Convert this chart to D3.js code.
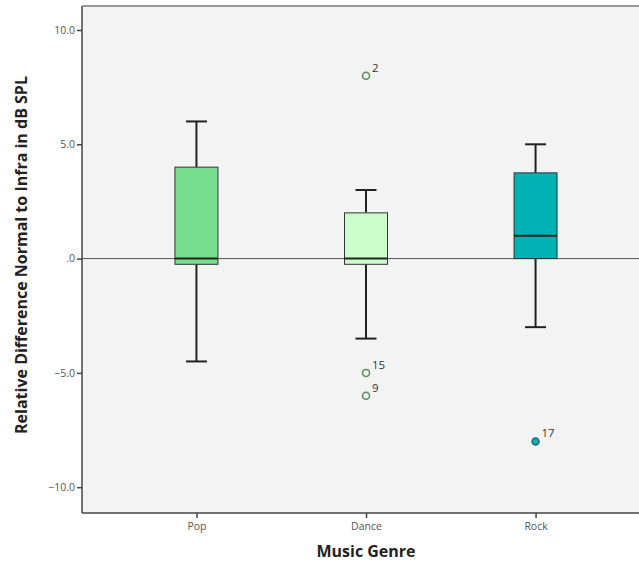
<!DOCTYPE html>
<html>
<head>
<meta charset="utf-8">
<script src="https://cdn.jsdelivr.net/npm/d3@7"></script>
<style>
  body { margin: 0; background: #fff; }
  svg text { font-family: "Open Sans", "DejaVu Sans", sans-serif; }
</style>
</head>
<body>
<div id="chart"></div>
<script>
// data
let genres = ["Pop", "Dance", "Rock"];
let q1 = [-0.25, -0.25, 0];
let medians = [0, 0, 1];
let q3 = [4, 2, 3.75];
let whiskLow = [-4.5, -3.5, -3];
let whiskHigh = [6, 3, 5];
let boxColors = ["#78df8e", "#ccfbcc", "#00b2b4"];
// outliers: genre, value, case label, filled?
let outGenre = ["Dance", "Dance", "Dance", "Rock"];
let outValue = [8, -5, -6, -8];
let outLabel = ["2", "15", "9", "17"];
let outFilled = [false, false, false, true];
let yTicks = [10, 5, 0, -5, -10];

let width = 639, height = 563;
let pLeft = 82, pTop = 6, pRight = 639, pBottom = 513;

let svg = d3.select("#chart").append("svg")
  .attr("width", width)
  .attr("height", height);

svg.append("rect")
  .attr("x", pLeft).attr("y", pTop)
  .attr("width", pRight - pLeft).attr("height", pBottom - pTop)
  .attr("fill", "#f3f3f3");

let y = d3.scaleLinear().domain([-11.13, 11.05]).range([pBottom, pTop]);
// the plot runs on past the right edge of the picture
let x = d3.scalePoint().domain(genres).range([pLeft, 650]).padding(0.675);

// zero reference line
svg.append("line")
  .attr("x1", pLeft).attr("x2", pRight)
  .attr("y1", y(0)).attr("y2", y(0))
  .attr("stroke", "#555").attr("stroke-width", 1);

let boxW = 43, capW = 21;
let rows = genres.map((g, i) => ({ g, i }));

let grp = svg.selectAll(".box").data(rows).enter().append("g").classed("box", true);

// whiskers
grp.append("line")
  .attr("x1", d => x(d.g)).attr("x2", d => x(d.g))
  .attr("y1", d => y(whiskHigh[d.i])).attr("y2", d => y(q3[d.i]))
  .attr("stroke", "#222").attr("stroke-width", 2);
grp.append("line")
  .attr("x1", d => x(d.g)).attr("x2", d => x(d.g))
  .attr("y1", d => y(q1[d.i])).attr("y2", d => y(whiskLow[d.i]))
  .attr("stroke", "#222").attr("stroke-width", 2);
grp.append("line")
  .attr("x1", d => x(d.g) - capW / 2).attr("x2", d => x(d.g) + capW / 2)
  .attr("y1", d => y(whiskHigh[d.i])).attr("y2", d => y(whiskHigh[d.i]))
  .attr("stroke", "#222").attr("stroke-width", 2);
grp.append("line")
  .attr("x1", d => x(d.g) - capW / 2).attr("x2", d => x(d.g) + capW / 2)
  .attr("y1", d => y(whiskLow[d.i])).attr("y2", d => y(whiskLow[d.i]))
  .attr("stroke", "#222").attr("stroke-width", 2);

// boxes
grp.append("rect")
  .attr("x", d => x(d.g) - boxW / 2)
  .attr("y", d => y(q3[d.i]))
  .attr("width", boxW)
  .attr("height", d => y(q1[d.i]) - y(q3[d.i]))
  .attr("fill", d => boxColors[d.i])
  .attr("stroke", "#333").attr("stroke-width", 1);

// medians
grp.append("line")
  .attr("x1", d => x(d.g) - boxW / 2).attr("x2", d => x(d.g) + boxW / 2)
  .attr("y1", d => y(medians[d.i])).attr("y2", d => y(medians[d.i]))
  .attr("stroke", "#222").attr("stroke-width", 2);

// outliers
let outs = outValue.map((v, i) => ({ g: outGenre[i], v, lab: outLabel[i], f: outFilled[i] }));
svg.selectAll(".out").data(outs).enter().append("circle").classed("out", true)
  .attr("cx", d => x(d.g)).attr("cy", d => y(d.v))
  .attr("r", 3.5)
  .attr("fill", d => d.f ? "#00b2b4" : "none")
  .attr("stroke", d => d.f ? "#1f6f70" : "#5d8f5d")
  .attr("stroke-width", 1.5);
svg.selectAll(".outlab").data(outs).enter().append("text").classed("outlab", true)
  .attr("x", d => x(d.g) + 6).attr("y", d => y(d.v) - 4)
  .attr("font-size", 11.5).attr("fill", "#333")
  .text(d => d.lab);

// frame
svg.append("line").attr("x1", pLeft).attr("x2", pLeft).attr("y1", pTop).attr("y2", pBottom)
  .attr("stroke", "#444").attr("stroke-width", 1.5);
svg.append("line").attr("x1", pLeft).attr("x2", pRight).attr("y1", pBottom).attr("y2", pBottom)
  .attr("stroke", "#444").attr("stroke-width", 1.5);
svg.append("line").attr("x1", pLeft).attr("x2", pRight).attr("y1", pTop).attr("y2", pTop)
  .attr("stroke", "#777").attr("stroke-width", 1.5);

// axes
let yAxis = d3.axisLeft(y).tickValues(yTicks).tickSize(5).tickPadding(2)
  .tickFormat(d => d === 0 ? ".0" : d3.format(".1f")(d));
let gy = svg.append("g").attr("transform", `translate(${pLeft},0)`).call(yAxis);
let xAxis = d3.axisBottom(x).tickSize(5).tickPadding(5);
let gx = svg.append("g").attr("transform", `translate(0,${pBottom})`).call(xAxis);
[gy, gx].forEach(g => {
  g.select(".domain").remove();
  g.selectAll("line").attr("stroke", "#444").attr("stroke-width", 1.5);
  g.selectAll("text").attr("font-size", 10.5).attr("fill", "#555")
    .attr("font-family", "'Open Sans', 'DejaVu Sans', sans-serif");
});

// titles
svg.append("text")
  .attr("x", 366).attr("y", 557)
  .attr("text-anchor", "middle")
  .attr("font-size", 16).attr("font-weight", "bold").attr("fill", "#222")
  .text("Music Genre");
svg.append("text")
  .attr("transform", "translate(27,255) rotate(-90)")
  .attr("text-anchor", "middle")
  .attr("font-size", 16).attr("font-weight", "bold").attr("fill", "#222")
  .text("Relative Difference Normal to Infra in dB SPL");
</script>
</body>
</html>
